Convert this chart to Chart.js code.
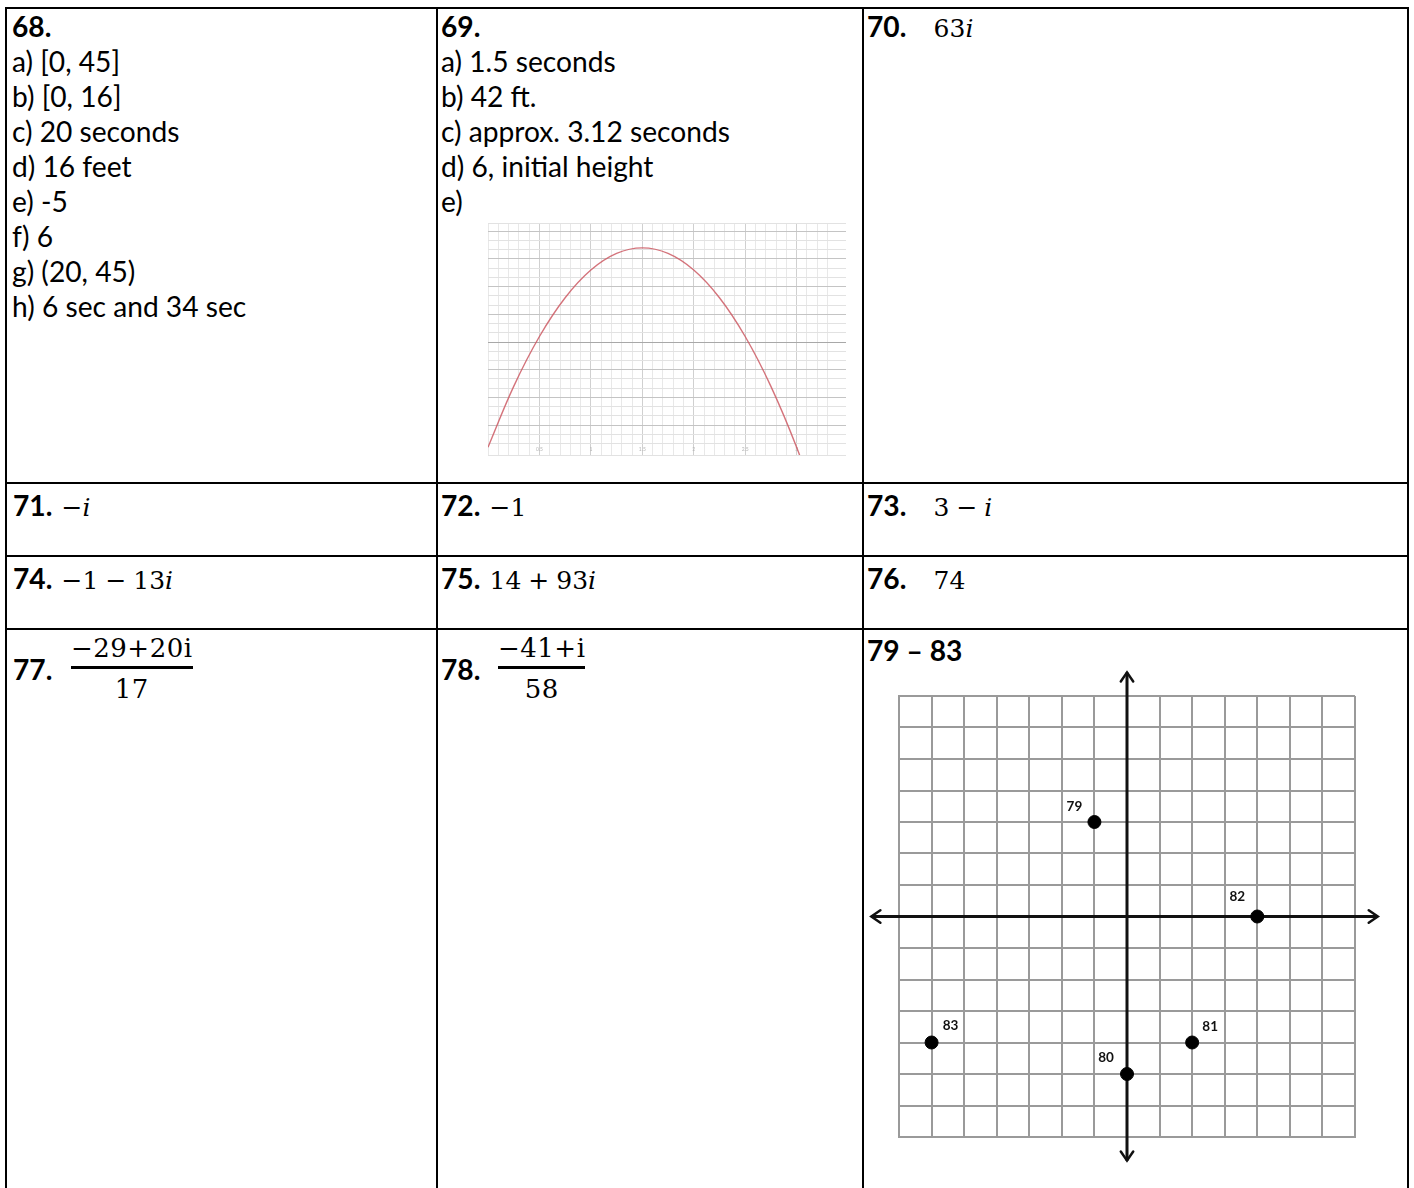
<!DOCTYPE html>
<html>
<head>
<meta charset="utf-8">
<script src="https://cdn.jsdelivr.net/npm/chart.js@4.4.1/dist/chart.umd.min.js"></script>
<style>
  body { margin: 0; background: #fff; }
  #page { position: relative; width: 1414px; height: 1188px; overflow: hidden; font-family: Lato, "Open Sans", sans-serif; font-size: var(--fs, 26px); color: #000; }
  .ln { position: absolute; background: #000; }
  .cell { position: absolute; line-height: 35px; white-space: nowrap; }
  .cell b { font-weight: 700; }
  .m { font-family: "DejaVu Serif", serif; font-size: 25px; word-spacing: -1px; margin-left: 2px; }
  .m i { font-style: italic; }
  .wide .m { margin-left: 20px; }
  .frac { position: absolute; display: flex; flex-direction: column; align-items: center; font-family: "DejaVu Serif", serif; font-size: 26px; letter-spacing: 0.5px; line-height: 28px; }
  .frac .bar { align-self: stretch; height: 3px; background: #000; margin: 4px 0 6px 0; }
  #parabolaBox { position: absolute; left: 488px; top: 222px; width: 358px; height: 234px; overflow: hidden; }
  #planeBox { position: absolute; left: 869px; top: 670px; width: 516px; height: 493px; }
</style>
</head>
<body>
<div id="page">
  <!-- table rules -->
  <div class="ln" style="left:5px;top:7px;width:1404px;height:2px"></div>
  <div class="ln" style="left:5px;top:7px;width:2px;height:1181px"></div>
  <div class="ln" style="left:1407px;top:7px;width:2px;height:1181px"></div>
  <div class="ln" style="left:436px;top:7px;width:2px;height:1181px"></div>
  <div class="ln" style="left:862px;top:7px;width:2px;height:1181px"></div>
  <div class="ln" style="left:5px;top:482px;width:1404px;height:2px"></div>
  <div class="ln" style="left:5px;top:555px;width:1404px;height:2px"></div>
  <div class="ln" style="left:5px;top:628px;width:1404px;height:2px"></div>

  <div class="cell" style="left:12px;top:9px">
    <b>68.</b><br>a) [0, 45]<br>b) [0, 16]<br>c) 20 seconds<br>d) 16 feet<br>e) -5<br>f) 6<br>g) (20, 45)<br>h) 6 sec and 34 sec
  </div>
  <div class="cell" style="left:441px;top:9px">
    <b>69.</b><br>a) 1.5 seconds<br>b) 42 ft.<br>c) approx. 3.12 seconds<br>d) 6, initial height<br>e)
  </div>
  <div class="cell wide" style="left:867px;top:9px"><b>70.</b> <span class="m">63<i>i</i></span></div>

  <div class="cell" style="left:13px;top:488px"><b>71.</b> <span class="m">−<i>i</i></span></div>
  <div class="cell" style="left:441px;top:488px"><b>72.</b> <span class="m">−1</span></div>
  <div class="cell wide" style="left:867px;top:488px"><b>73.</b> <span class="m">3 − <i>i</i></span></div>

  <div class="cell" style="left:13px;top:561px"><b>74.</b> <span class="m">−1 − 13<i>i</i></span></div>
  <div class="cell" style="left:441px;top:561px"><b>75.</b> <span class="m">14 + 93<i>i</i></span></div>
  <div class="cell wide" style="left:867px;top:561px"><b>76.</b> <span class="m">74</span></div>

  <div class="cell" style="left:13px;top:652px"><b>77.</b></div>
  <div class="frac" style="left:71px;top:634px"><span>−29+20i</span><span class="bar"></span><span>17</span></div>
  <div class="cell" style="left:441px;top:652px"><b>78.</b></div>
  <div class="frac" style="left:498px;top:634px"><span>−41+i</span><span class="bar"></span><span>58</span></div>
  <div class="cell" style="left:867px;top:633px"><b>79 – 83</b></div>

  <div id="parabolaBox"><canvas id="parabola" width="358" height="234"></canvas></div>
  <div id="planeBox"><canvas id="plane" width="516" height="493"></canvas></div>
</div>

<script>
// 69 e) height of the ball (ft) against time (s)
const flightTimes = [0, 0.25, 0.5, 0.75, 1, 1.25, 1.5, 1.75, 2, 2.25, 2.5, 2.75, 3, 3.25];
const flightHeights = [6, 17, 26, 33, 38, 41, 42, 41, 38, 33, 26, 17, 6, -7];
const heightTicks = [5, 10, 15, 20, 25, 30, 35, 40, 45];
const timeTicks = [0.5, 1, 1.5, 2, 2.5, 3, 3.5];

// 79 - 83 points on the complex plane
const pointNames = ['79', '80', '81', '82', '83'];
const realParts = [-1, 0, 2, 4, -6];
const imagParts = [3, -5, -4, 0, -4];
const axisReal = [-7.85, 7.7];
const axisImag = [7.75, -7.75];

// fit the body font to the width of the Calibri text in the picture
const measure = document.createElement('canvas').getContext('2d');
measure.font = '100px Lato';
const fitSize = 100 * 289 / measure.measureText('c) approx. 3.12 seconds').width;
document.getElementById('page').style.setProperty('--fs', fitSize.toFixed(2) + 'px');

Chart.defaults.animation = false;
Chart.defaults.font.family = 'Lato, sans-serif';

function near(v, list) {
    return list.some(t => Math.abs(t - v) < 1e-6);
}

new Chart(document.getElementById('parabola'), {
    type: 'line',
    data: {
        datasets: [{
            data: flightTimes.map((t, i) => ({ x: t, y: flightHeights[i] })),
            borderColor: 'rgba(205, 90, 100, 0.85)',
            borderWidth: 1.4,
            pointRadius: 0,
            tension: 0.4
        }]
    },
    options: {
        responsive: false,
        devicePixelRatio: 1,
        layout: { padding: 0 },
        plugins: { legend: { display: false }, tooltip: { enabled: false } },
        scales: {
            x: {
                type: 'linear',
                min: 0,
                max: 3.48,
                border: { display: false },
                grid: {
                    drawTicks: false,
                    color: ctx => near(ctx.tick.value, timeTicks) ? '#d0d0d0' : '#e8e8e8',
                    lineWidth: 1
                },
                ticks: {
                    stepSize: 0.1,
                    autoSkip: false,
                    maxRotation: 0,
                    padding: -9,
                    color: '#b5b5b5',
                    font: { size: 5 },
                    callback: v => near(v, timeTicks) ? String(Math.round(v * 10) / 10) : ''
                }
            },
            y: {
                min: 4.6,
                max: 46.5,
                border: { display: false },
                grid: {
                    drawTicks: false,
                    color: ctx => {
                        const v = ctx.tick.value;
                        if (Math.abs(v - 25) < 1e-6) return '#a8a8a8';
                        return near(v, heightTicks) ? '#c4c4c4' : '#e2e2e2';
                    },
                    lineWidth: 1
                },
                ticks: {
                    stepSize: 5 / 3,
                    autoSkip: false,
                    mirror: true,
                    padding: -2,
                    color: '#b5b5b5',
                    font: { size: 5 },
                    callback: v => near(v, heightTicks) ? String(Math.round(v)) : ''
                }
            }
        }
    }
});

// arrow heads at both ends of each axis line and the point numbers
const planeDecor = {
    id: 'planeDecor',
    afterDatasetsDraw(chart) {
        const c = chart.ctx;
        c.save();
        c.strokeStyle = '#111';
        c.lineWidth = 2.5;
        c.lineCap = 'round';
        [1, 2].forEach(di => {
            const pts = chart.getDatasetMeta(di).data;
            [[pts[0], pts[1]], [pts[1], pts[0]]].forEach(([tip, from]) => {
                const ang = Math.atan2(tip.y - from.y, tip.x - from.x);
                c.beginPath();
                c.moveTo(tip.x - 11 * Math.cos(ang - 0.6), tip.y - 11 * Math.sin(ang - 0.6));
                c.lineTo(tip.x, tip.y);
                c.lineTo(tip.x - 11 * Math.cos(ang + 0.6), tip.y - 11 * Math.sin(ang + 0.6));
                c.stroke();
            });
        });
        const offsets = [[-20, -15], [-21, -16], [18, -16], [-20, -20], [19, -17]];
        c.fillStyle = '#111';
        c.font = 'bold 13.5px Lato, sans-serif';
        c.textAlign = 'center';
        c.textBaseline = 'middle';
        chart.getDatasetMeta(0).data.forEach((p, i) => {
            c.fillText(pointNames[i], p.x + offsets[i][0], p.y + offsets[i][1]);
        });
        c.restore();
    }
};

const planeGrid = {
    display: true,
    border: { display: true, color: '#9a9a9a', width: 2 },
    grid: { color: '#9a9a9a', lineWidth: 2, drawTicks: false },
    ticks: { display: false, stepSize: 1 }
};

new Chart(document.getElementById('plane'), {
    type: 'scatter',
    data: {
        datasets: [{
            data: realParts.map((r, i) => ({ x: r, y: imagParts[i] })),
            backgroundColor: '#000',
            borderColor: '#000',
            pointRadius: 6.5
        }, {
            type: 'line',
            data: axisReal.map(r => ({ x: r, y: 0 })),
            borderColor: '#111',
            borderWidth: 3,
            pointRadius: 0,
            clip: false
        }, {
            type: 'line',
            data: axisImag.map(m => ({ x: 0, y: m })),
            borderColor: '#111',
            borderWidth: 3,
            pointRadius: 0,
            clip: false
        }]
    },
    options: {
        responsive: false,
        devicePixelRatio: 1,
        layout: { padding: { left: 30, right: 30, top: 26, bottom: 26 } },
        plugins: { legend: { display: false }, tooltip: { enabled: false } },
        scales: {
            x: Object.assign({ min: -7, max: 7 }, planeGrid),
            y: Object.assign({ min: -7, max: 7 }, planeGrid)
        }
    },
    plugins: [planeDecor]
});
</script>
</body>
</html>
